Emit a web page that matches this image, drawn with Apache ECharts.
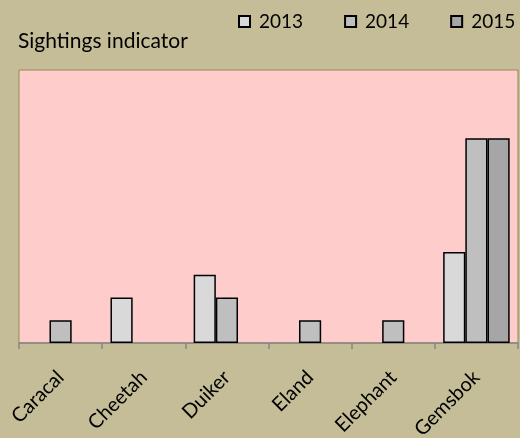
<!DOCTYPE html>
<html>
<head>
<meta charset="utf-8">
<script src="https://cdn.jsdelivr.net/npm/echarts@6/dist/echarts.min.js"></script>
<style>
  html, body { margin: 0; padding: 0; background: #c4bd97; }
  #chart { width: 520px; height: 438px; }
</style>
</head>
<body>
<div id="chart"></div>
<script>
const animals = ['Caracal', 'Cheetah', 'Duiker', 'Eland', 'Elephant', 'Gemsbok']
const years = ['2013', '2014', '2015']
const sightings2013 = [0, 2, 3, 0, 0, 4]
const sightings2014 = [1, 0, 2, 1, 1, 9]
const sightings2015 = [0, 0, 0, 0, 0, 9]

const colors = ['#d9d9d9', '#bfbfbf', '#a6a6a6']
const font = 'Lato, "Open Sans", sans-serif'

const chart = echarts.init(document.getElementById('chart'))

// zero bars are invisible in the original, so drop their outline
function bar (name, data, i) {
  return {
    name: name,
    type: 'bar',
    data: data.map(v => v === 0 ? { value: 0, itemStyle: { borderWidth: 0 } } : v),
    barGap: 0,
    barCategoryGap: '20%',
    itemStyle: {
      color: colors[i],
      borderColor: '#000',
      borderWidth: 1.5
    }
  }
}

const option = {
  backgroundColor: '#c4bd97',
  animation: false,
  title: {
    text: 'Sightings indicator',
    left: 13,
    top: 26,
    textStyle: { fontFamily: font, fontSize: 21, fontWeight: 'normal', color: '#000' }
  },
  legend: {
    data: years,
    icon: 'rect',
    orient: 'horizontal',
    left: 238,
    top: 12,
    width: 300,
    padding: 0,
    itemWidth: 11,
    itemHeight: 11,
    itemGap: 41,
    textStyle: { fontFamily: font, fontSize: 19, color: '#000', padding: [0, 0, 0, 4] }
  },
  grid: {
    left: 19,
    right: 2,
    top: 70,
    bottom: 95,
    outerBoundsMode: 'none',
    containLabel: false,
    show: true,
    backgroundColor: '#ffcccc',
    borderColor: '#948a54',
    borderWidth: 1
  },
  xAxis: {
    type: 'category',
    data: animals,
    axisLine: { lineStyle: { color: '#868686', width: 1.5 } },
    axisTick: { show: true, length: 6, lineStyle: { color: '#868686', width: 1.5 } },
    axisLabel: {
      rotate: 45,
      interval: 0,
      fontFamily: font,
      fontSize: 20,
      color: '#000',
      margin: 31
    }
  },
  yAxis: {
    type: 'value',
    min: 0,
    max: 12,
    show: false
  },
  series: [
    bar('2013', sightings2013, 0),
    bar('2014', sightings2014, 1),
    bar('2015', sightings2015, 2)
  ]
}

chart.setOption(option)
</script>
</body>
</html>
